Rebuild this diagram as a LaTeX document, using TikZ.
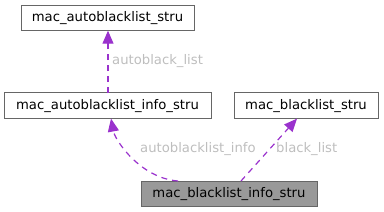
\documentclass[tikz,border=0pt]{standalone}
\usepackage{fontspec}
\setmainfont{DejaVu Sans}
\usetikzlibrary{arrows.meta}
\definecolor{edgec}{RGB}{154,50,205}
\definecolor{bordc}{RGB}{102,102,102}
\definecolor{labc}{RGB}{190,190,190}
\definecolor{hifill}{RGB}{153,153,153}
\tikzset{
  box/.style={draw=bordc, line width=0.9pt, inner sep=0pt, minimum height=25.5pt, font=\fontsize{13.2}{15}\selectfont, text=black, anchor=center},
  usage/.style={draw=edgec, line width=1.2pt, dash pattern=on 6pt off 5pt, -{Triangle[length=13pt,width=11pt]}},
  elabel/.style={text=labc, font=\fontsize{13.2}{15}\selectfont, inner sep=0pt}
}
\begin{document}
\begin{tikzpicture}[x=1pt,y=-1pt]
\useasboundingbox (0,0) rectangle (384,212);
\node[box, minimum width=173pt] (A) at (107.5,17.9) {mac\_autoblacklist\_stru};
\node[box, minimum width=207pt] (B) at (107.5,105.6) {mac\_autoblacklist\_info\_stru};
\node[box, minimum width=144pt] (C) at (306,105.6) {mac\_blacklist\_stru};
\node[box, fill=hifill, minimum width=176pt] (D) at (229,193.7) {mac\_blacklist\_info\_stru};
\coordinate (b0) at (108,93);
\coordinate (a0) at (108,30.7);
\coordinate (d1) at (178,181);
\coordinate (d2) at (241,181);
\coordinate (b1) at (111,118.6);
\coordinate (c1) at (297,118.6);
\draw[usage] (b0) -- (a0);
\draw[usage] (d1) .. controls (140,178) and (115,140) .. (b1);
\draw[usage] (d2) -- (c1);
\node[elabel, anchor=west] (l1) at (112,60.7) {autoblack\_list};
\node[elabel, anchor=west] (l2) at (140,149) {autoblacklist\_info};
\node[elabel, anchor=west] (l3) at (276,149) {black\_list};
\end{tikzpicture}
\end{document}
